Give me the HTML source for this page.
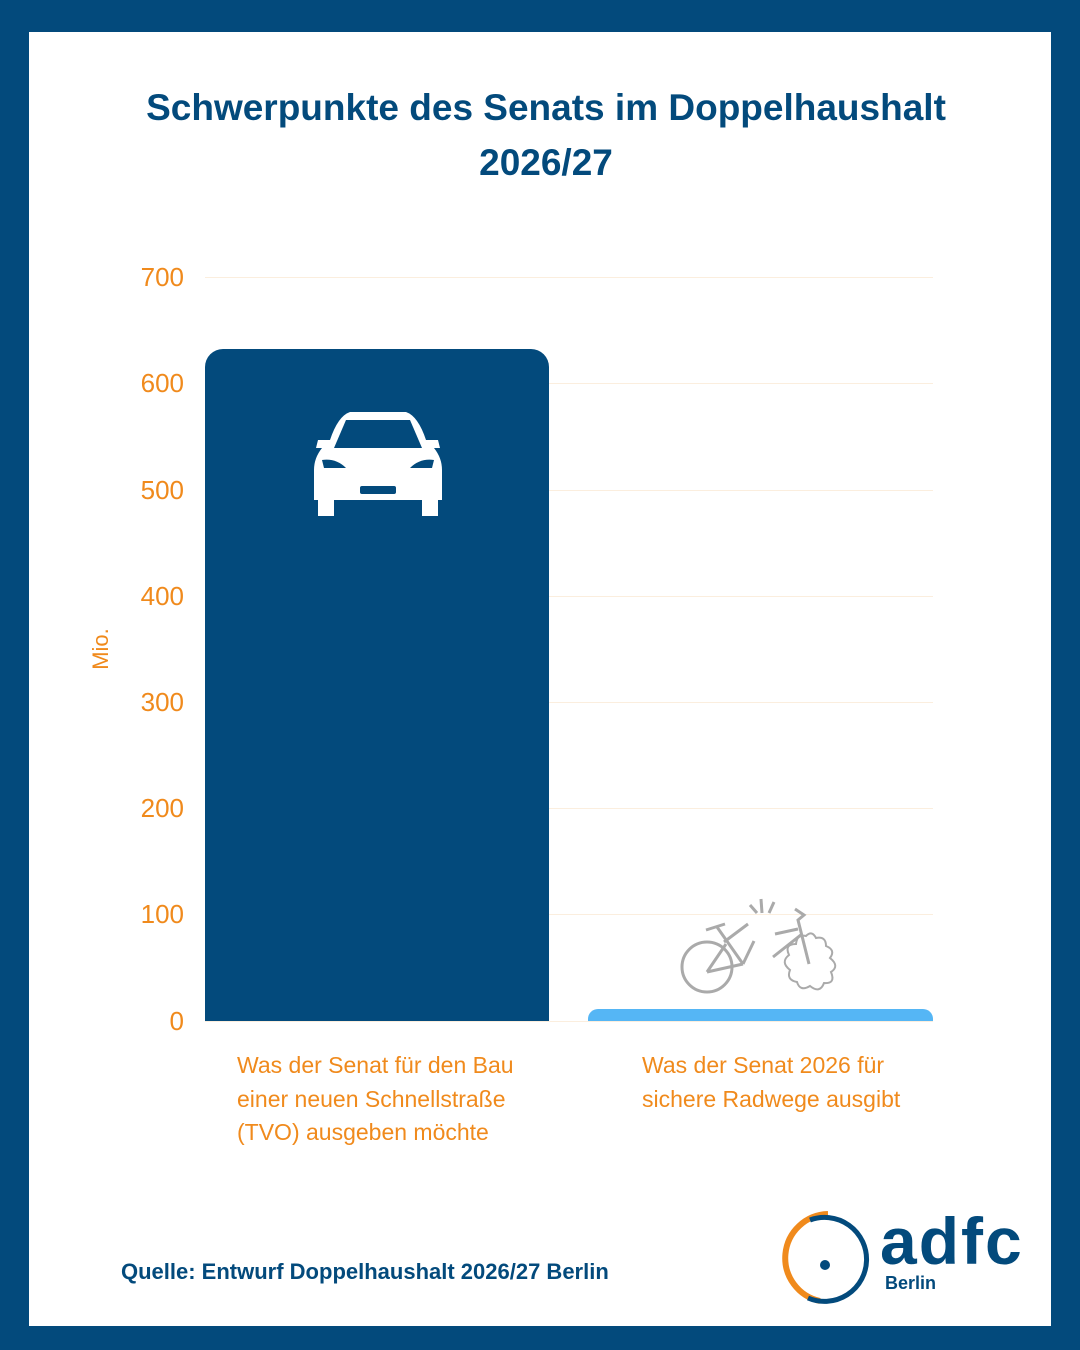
<!DOCTYPE html>
<html><head><meta charset="utf-8"><style>
body{margin:0;width:1080px;height:1350px;background:#034a7c;position:relative;font-family:"Liberation Sans",sans-serif;overflow:hidden}
.card{position:absolute;left:29px;top:32px;width:1022px;height:1294px;background:#fff}
.t{position:absolute;left:0;width:1092px;text-align:center;color:#034a7c;font-weight:bold;font-size:37px}
.g{position:absolute;left:205px;width:728px;height:1px;background:#fbeede}
.y{position:absolute;width:100px;left:84px;text-align:right;color:#f08a1c;font-size:26px}
.lab{position:absolute;color:#f08a1c;font-size:23px;line-height:33.5px}
</style></head><body>
<div class="card"></div>
<div class="t" style="top:87px">Schwerpunkte des Senats im Doppelhaushalt</div>
<div class="t" style="top:142px">2026/27</div>
<div class="g" style="top:277px"></div><div class="g" style="top:383px"></div><div class="g" style="top:490px"></div><div class="g" style="top:596px"></div><div class="g" style="top:702px"></div><div class="g" style="top:808px"></div><div class="g" style="top:914px"></div><div class="g" style="top:1021px"></div>
<div class="y" style="top:262px">700</div><div class="y" style="top:368px">600</div><div class="y" style="top:475px">500</div><div class="y" style="top:581px">400</div><div class="y" style="top:687px">300</div><div class="y" style="top:793px">200</div><div class="y" style="top:899px">100</div><div class="y" style="top:1006px">0</div>
<div style="position:absolute;left:80px;top:636px;color:#f08a1c;font-size:22px;transform:rotate(-90deg)">Mio.</div>
<div style="position:absolute;left:205px;top:349px;width:344px;height:672px;background:#034a7c;border-radius:18px 18px 0 0"></div>
<div style="position:absolute;left:588px;top:1009px;width:345px;height:12px;background:#55b6f5;border-radius:10px 10px 0 0"></div>
<svg style="position:absolute;left:310px;top:408px" width="136" height="110" viewBox="0 0 136 110">
<path d="M20 32 Q28 8 40 4 L96 4 Q108 8 116 32 L128 32 L130 40 L124 40 Q132 50 132 62 L132 92 L4 92 L4 62 Q4 50 12 40 L6 40 L8 32 Z" fill="#fff"/>
<path d="M24 40 L36 12 L100 12 L112 40 Z" fill="#034a7c"/>
<rect x="8" y="92" width="16" height="16" fill="#fff"/><rect x="112" y="92" width="16" height="16" fill="#fff"/>
<path d="M12 52 Q26 50 36 60 L14 60 Z" fill="#034a7c"/><path d="M124 52 Q110 50 100 60 L122 60 Z" fill="#034a7c"/>
<rect x="50" y="78" width="36" height="8" rx="2" fill="#034a7c"/><rect x="60" y="9" width="16" height="3" fill="#fff"/>
</svg>
<svg style="position:absolute;left:0;top:0" width="1080" height="1350" fill="none" stroke="#aaa" stroke-width="3">
<circle cx="707" cy="967" r="25"/>
<path d="M706 930 L725 924 M717 927 L743 964 M707 972 L743 964 M707 972 L726 944 M724 942 L748 924 M743 964 L754 941"/>
<path d="M795 909 L804 915 L798 920 L809 964 M775 934 L798 929 M773 957 L802 934 M750 905 L757 913 M761 899 L762 913 M774 902 L769 913"/>
<path d="M806 936 Q812 930 816 938 Q826 936 826 946 Q836 950 830 958 Q840 966 831 972 Q836 984 824 983 Q820 994 810 986 Q800 992 797 982 Q786 980 790 970 Q780 962 789 955 Q784 944 796 944 Q797 934 806 936 Z" stroke-width="2"/>
</svg>
<div class="lab" style="left:237px;top:1049px">Was der Senat für den Bau<br>einer neuen Schnellstraße<br>(TVO) ausgeben möchte</div>
<div class="lab" style="left:642px;top:1049px">Was der Senat 2026 für<br>sichere Radwege ausgibt</div>
<div style="position:absolute;left:121px;top:1259px;color:#034a7c;font-weight:bold;font-size:22px">Quelle: Entwurf Doppelhaushalt 2026/27 Berlin</div>
<svg style="position:absolute;left:780px;top:1210px" width="95" height="95" viewBox="0 0 95 95">
<path d="M40 91 A44 44 0 0 1 48 4" stroke="#f08a1c" stroke-width="6" fill="none"/>
<path d="M30 10 A42 42 0 1 1 28 88" stroke="#034a7c" stroke-width="5" fill="none"/>
<circle cx="45" cy="55" r="5" fill="#034a7c"/>
</svg>
<div style="position:absolute;left:880px;top:1203px;color:#034a7c;font-weight:bold;font-size:66px;letter-spacing:2px">adfc</div>
<div style="position:absolute;left:885px;top:1273px;color:#034a7c;font-weight:bold;font-size:18px">Berlin</div>
</body></html>
